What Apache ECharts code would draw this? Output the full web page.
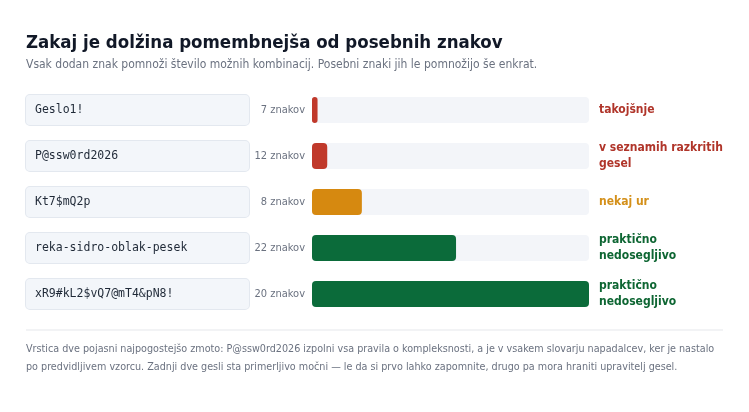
<!DOCTYPE html>
<html>
<head>
<meta charset="utf-8">
<script src="https://cdn.jsdelivr.net/npm/echarts@6/dist/echarts.min.js"></script>
<style>
html,body{margin:0;padding:0;background:#ffffff;}
#chart{width:749px;height:412px;}
</style>
</head>
<body>
<div id="chart"></div>
<script>
const passwords = ['Geslo1!', 'P@ssw0rd2026', 'Kt7$mQ2p', 'reka-sidro-oblak-pesek', 'xR9#kL2$vQ7@mT4&pN8!'];
const lengths = [7, 12, 8, 22, 20];
const strength = [2, 5.5, 18, 52, 100];
const verdicts = ['takojšnje', 'v seznamih razkritih gesel', 'nekaj ur', 'praktično nedosegljivo', 'praktično nedosegljivo'];
const barColors = ['#c0392b', '#c0392b', '#d68910', '#0b6b3a', '#0b6b3a'];
const verdictColors = ['#b0352a', '#b0352a', '#d4901a', '#0e6633', '#0e6633'];
const TRACK_MAX = 100;

const FONT = '"DejaVu Sans Condensed", "DejaVu Sans", sans-serif';
const MONO = '"DejaVu Sans Mono", monospace';

const chart = echarts.init(document.getElementById('chart'));
chart.setOption({
  backgroundColor: '#ffffff',
  animation: false,
  title: {
    text: 'Zakaj je dolžina pomembnejša od posebnih znakov',
    subtext: 'Vsak dodan znak pomnoži število možnih kombinacij. Posebni znaki jih le pomnožijo še enkrat.',
    left: 21,
    top: 29,
    itemGap: 6,
    textStyle: { fontFamily: FONT, fontSize: 18.5, fontWeight: 'bold', color: '#111827' },
    subtextStyle: { fontFamily: FONT, fontSize: 12, color: '#6b7280' }
  },
  grid: { left: 312, right: 160, top: 87, height: 230 },
  xAxis: { type: 'value', min: 0, max: TRACK_MAX, show: false },
  yAxis: {
    type: 'category',
    inverse: true,
    data: passwords,
    axisLine: { show: false },
    axisTick: { show: false },
    splitLine: { show: false },
    axisLabel: {
      margin: 7,
      formatter: function (v, i) {
        return '{pw|' + v + '}{len|' + lengths[i] + ' znakov}';
      },
      rich: {
        pw: {
          fontFamily: MONO, fontSize: 11.5, color: '#1f2937',
          backgroundColor: '#f3f6fa', borderColor: '#e3e8ef', borderWidth: 1, borderRadius: 4,
          width: 205, height: 30, lineHeight: 30, padding: [0, 9], align: 'left'
        },
        len: {
          fontFamily: FONT, fontSize: 11, color: '#6b7280',
          width: 56, lineHeight: 30, align: 'right'
        }
      }
    }
  },
  series: [
    {
      type: 'bar',
      silent: true,
      barWidth: 26,
      barGap: '-100%',
      itemStyle: { color: '#f3f5f9', borderRadius: 4 },
      label: {
        show: true,
        position: 'right',
        distance: 10,
        formatter: function (p) { return verdicts[p.dataIndex]; },
        width: 128,
        overflow: 'break',
        lineHeight: 16,
        fontFamily: FONT,
        fontSize: 12,
        fontWeight: 'bold'
      },
      data: verdicts.map(function (v, i) {
        return { value: TRACK_MAX, label: { color: verdictColors[i] } };
      })
    },
    {
      type: 'bar',
      barWidth: 26,
      barGap: '-100%',
      data: strength.map(function (v, i) {
        return { value: v, itemStyle: { color: barColors[i], borderRadius: 4 } };
      })
    }
  ],
  graphic: [
    {
      type: 'line',
      shape: { x1: 26, y1: 330, x2: 723, y2: 330 },
      style: { stroke: '#e5e7eb', lineWidth: 1 },
      silent: true
    },
    {
      type: 'text',
      left: 26,
      top: 340,
      style: {
        text: 'Vrstica dve pojasni najpogostejšo zmoto: P@ssw0rd2026 izpolni vsa pravila o kompleksnosti, a je v vsakem slovarju napadalcev, ker je nastalo\npo predvidljivem vzorcu. Zadnji dve gesli sta primerljivo močni — le da si prvo lahko zapomnite, drugo pa mora hraniti upravitelj gesel.',
        fontFamily: FONT,
        fontSize: 10.7,
        lineHeight: 18,
        fill: '#6b7280'
      },
      silent: true
    }
  ]
});
</script>
</body>
</html>
